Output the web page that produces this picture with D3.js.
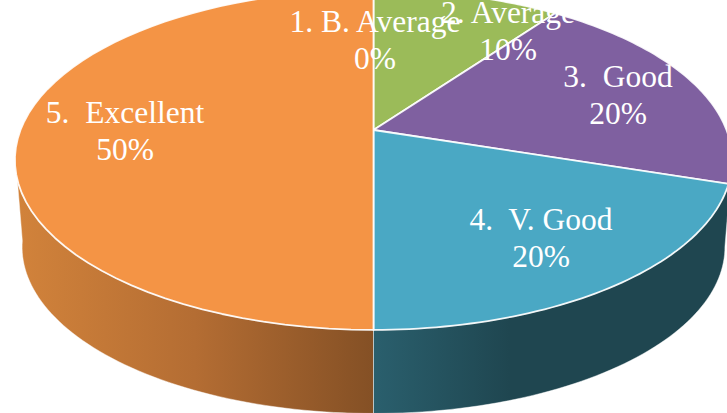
<!DOCTYPE html>
<html>
<head>
<meta charset="utf-8">
<script src="https://cdn.jsdelivr.net/npm/d3@7"></script>
<style>
html,body{margin:0;padding:0;background:#fff;overflow:hidden}
svg{display:block}
text{font-family:"Liberation Serif",serif;font-size:31.5px;fill:#fff;text-anchor:middle;white-space:pre}
</style>
</head>
<body>
<svg id="c" width="727" height="413"></svg>
<script>
const categories = ["1. B. Average", "2. Average", "3.  Good", "4.  V. Good", "5.  Excellent"];
const values = [0, 10, 20, 20, 50];
const percentLabels = ["0%", "10%", "20%", "20%", "50%"];
const colors = ["#c0504d", "#9bbb59", "#7f60a0", "#4aa8c4", "#f49445"];
const labelAnchors = [[375, 32], [508, 23], [618, 87], [541, 230], [125, 123]];

const svg = d3.select("#c");
const cx = 373.5, apexY = 130, A = 353, B = 164.7, k = 0.176;
const ellipseCy = 160, depth = 87, shrink = 0.98;

// Perspective projection of the unit disc: clock angle a, radial fraction r
function rimTop(a, r = 1) {
  const u = r * Math.sin(a), v = -r * Math.cos(a), w = 1 - k * v;
  return [cx + A * u / w, apexY + B * v / w];
}
function rimBottom(a) {
  const p = rimTop(a);
  return [cx + (p[0] - cx) * shrink, ellipseCy + depth + (p[1] - ellipseCy) * shrink];
}
const line = d3.line();
const deg = d3.scaleLinear().domain([0, 360]).range([0, 2 * Math.PI]);
const arcPts = (a0, a1, f) => d3.range(0, 61).map(i => f(a0 + (a1 - a0) * i / 60));

const defs = svg.append("defs");
const g1 = defs.append("linearGradient").attr("id", "sideOrange")
  .attr("gradientUnits", "userSpaceOnUse").attr("x1", 15).attr("x2", 374).attr("y1", 0).attr("y2", 0);
g1.append("stop").attr("offset", 0).attr("stop-color", "#d2833b");
g1.append("stop").attr("offset", 0.5).attr("stop-color", "#b46d33");
g1.append("stop").attr("offset", 1).attr("stop-color", "#845025");
const g2 = defs.append("linearGradient").attr("id", "sideTeal")
  .attr("gradientUnits", "userSpaceOnUse").attr("x1", 374).attr("x2", 510).attr("y1", 0).attr("y2", 0);
g2.append("stop").attr("offset", 0).attr("stop-color", "#2a5f6d");
g2.append("stop").attr("offset", 1).attr("stop-color", "#1f4650");

// Side wall
const pieData = d3.pie().sort(null).value(d => d)(values);
const sideStart = deg(100), sideMid = deg(180), sideEnd = deg(262);
function sidePath(a0, a1) {
  return line(arcPts(a0, a1, rimTop).concat(arcPts(a1, a0, rimBottom))) + "Z";
}
svg.append("path").attr("d", sidePath(sideMid, sideEnd))
  .attr("fill", "url(#sideOrange)").attr("stroke", "#fff").attr("stroke-opacity", 0.45).attr("stroke-width", 1);
svg.append("path").attr("d", sidePath(sideStart, sideMid))
  .attr("fill", "url(#sideTeal)").attr("stroke", "#fff").attr("stroke-opacity", 0.45).attr("stroke-width", 1);

// Top face
svg.append("g").selectAll("path").data(pieData.filter(d => d.value > 0)).join("path")
  .attr("d", d => line([[cx, apexY]].concat(arcPts(d.startAngle, d.endAngle, rimTop))) + "Z")
  .attr("fill", d => colors[d.index])
  .attr("stroke", "#fff").attr("stroke-opacity", 0.9).attr("stroke-width", 1.8).attr("stroke-linejoin", "round");

// Labels
const lab = svg.append("g").selectAll("g").data(categories).join("g")
  .attr("transform", (d, i) => `translate(${labelAnchors[i][0]},${labelAnchors[i][1]})`);
lab.append("text").text(d => d);
lab.append("text").attr("y", 37).text((d, i) => percentLabels[i]);
</script>
</body>
</html>
